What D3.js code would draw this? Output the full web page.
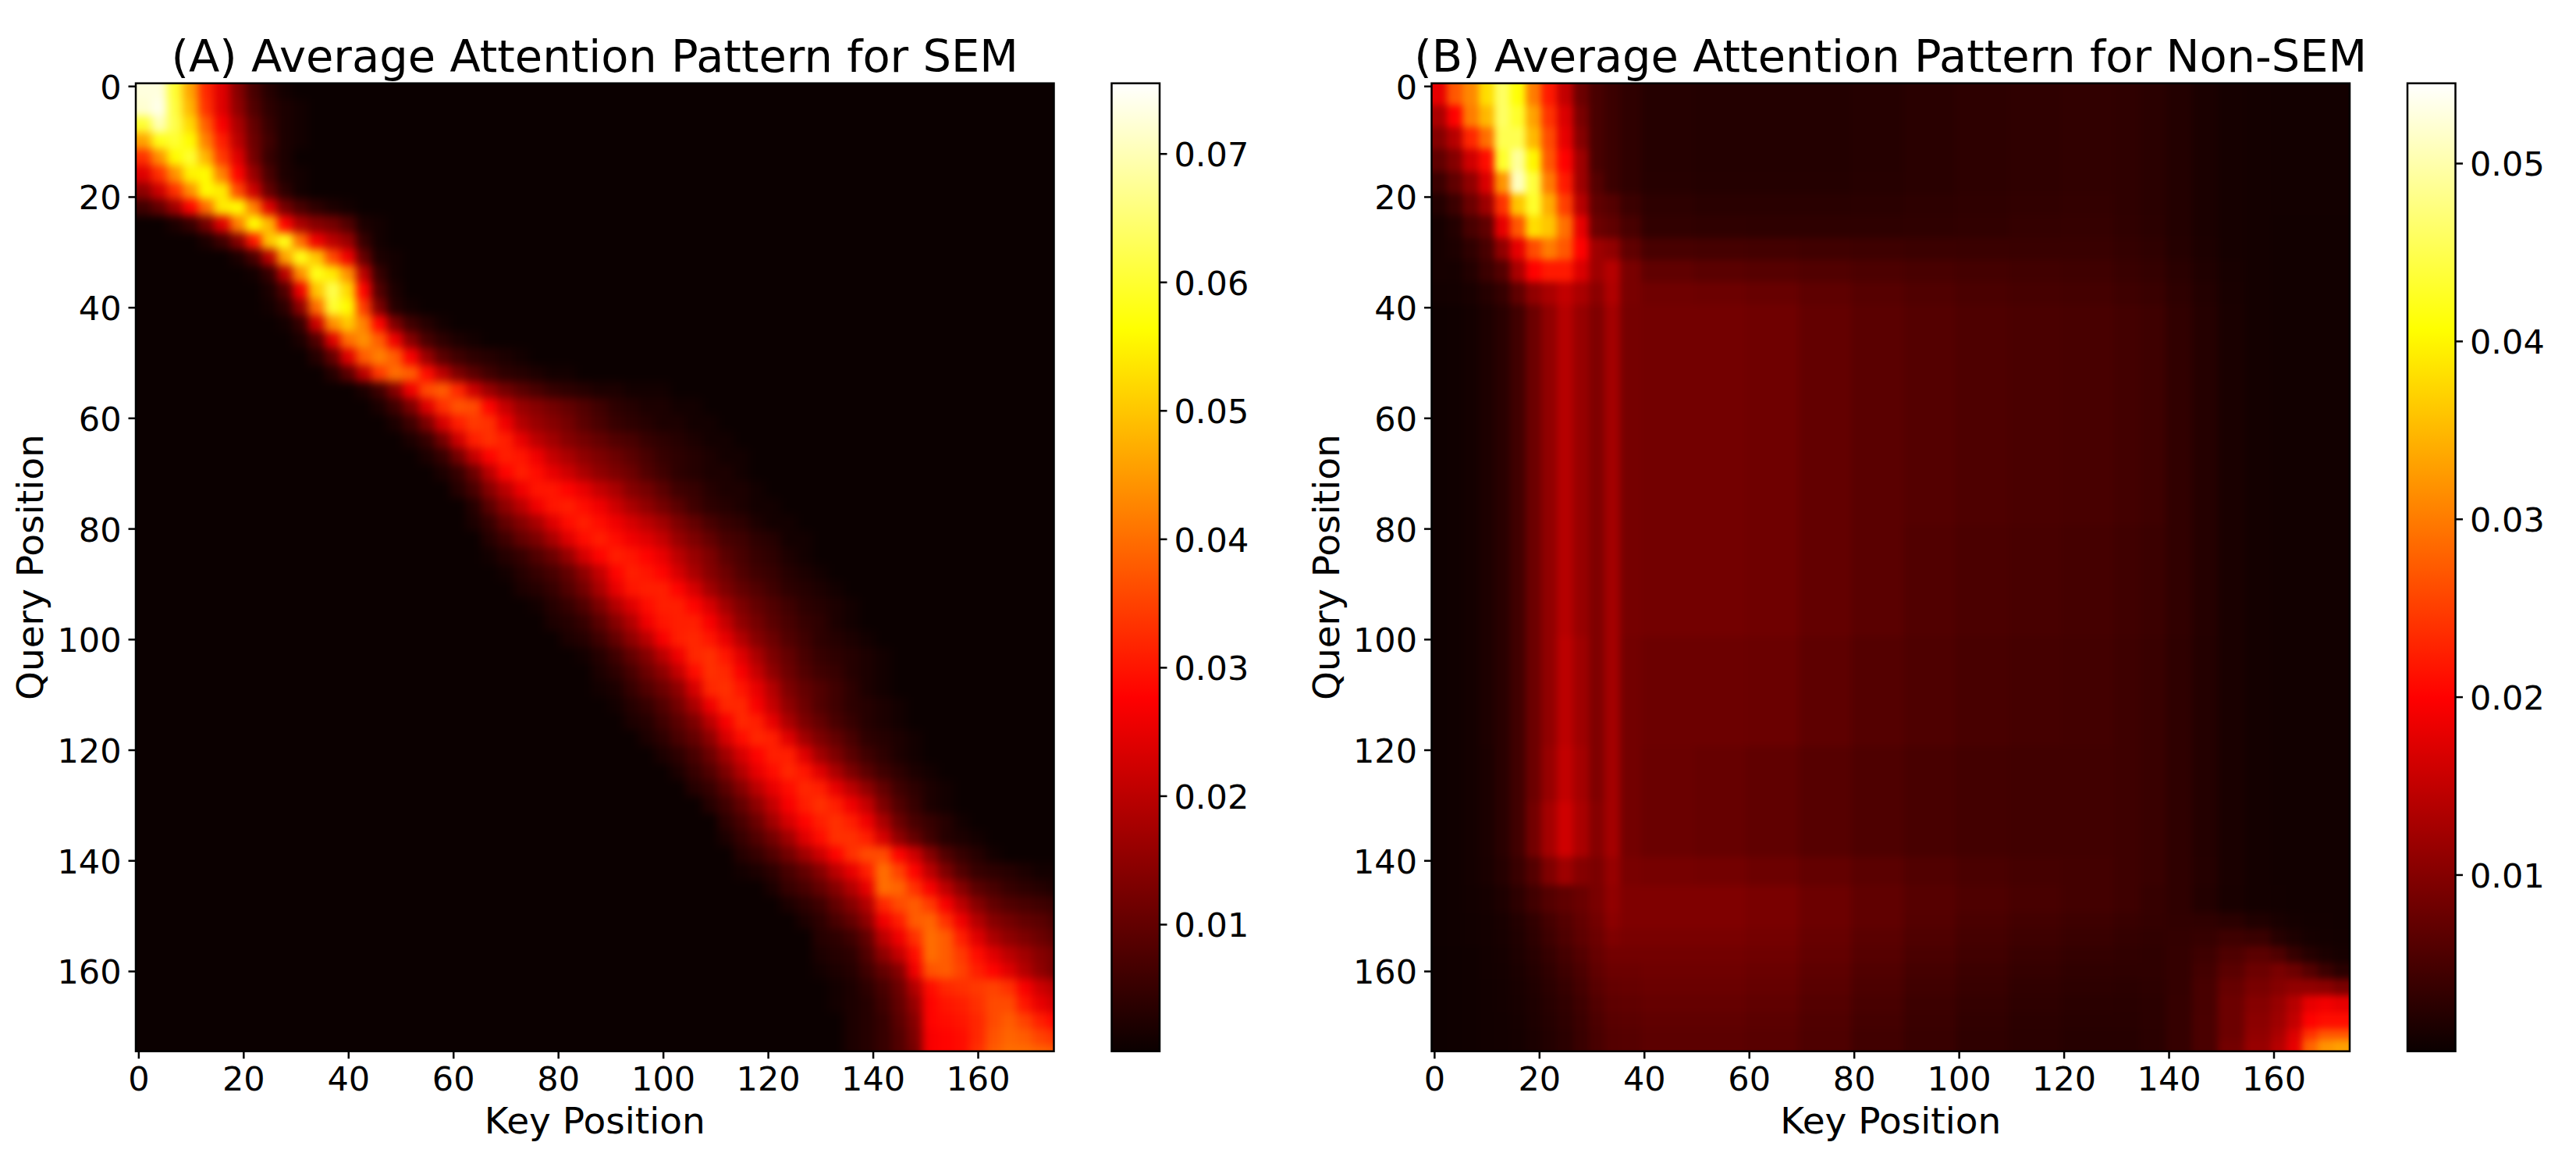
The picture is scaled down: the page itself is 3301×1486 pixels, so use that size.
<!DOCTYPE html>
<html><head><meta charset="utf-8">
<script src="https://cdnjs.cloudflare.com/ajax/libs/d3/7.8.5/d3.min.js"></script>
<style>html,body{margin:0;background:#fff}svg{display:block}text{font-family:"DejaVu Sans";fill:#000}</style>
</head><body><div id="c"></div>
<script>
// Values, in units of 0.001. Cells span from one bin edge to the next.
const keyBinsA = [0,3,6,9,12,15,18,21,24,27,30,33,36,39,42,45,48,51,54,57,60,63,66,69,72,75,78,81,84,87,90,93,96,99,102,105,108,111,114,117,120,123,126,129,132,135,138,141,144,147,150,153,156,159,162,165,168,171,174];
const queryBinsA = [0,3,6,9,12,15,18,21,24,27,30,33,36,39,42,45,48,51,54,57,60,63,66,69,72,75,78,81,84,87,90,93,96,99,102,105,108,111,114,117,120,123,126,129,132,135,138,141,144,147,150,153,156,159,162,165,168,171,174];
// Panel A rows: [first key bin index, values...]; all other cells are zero.
const rowsA = [
[0,73,73,60,46,32,24,14,7,3,1],
[0,72,74,61,48,33,24,15,8,4,2,1],
[0,60,70,62,52,38,27,18,10,5,2,1],
[0,46,58,60,56,42,31,20,11,6,2,1],
[0,33,44,56,60,48,34,24,12,5,2],
[0,24,33,44,55,56,42,28,16,7,2,1],
[0,15,22,33,44,56,54,36,22,10,4,1],
[0,6,10,17,28,40,54,56,42,24,12,7,4,2,1],
[2,2,5,12,24,42,56,48,28,18,14,12,8,2,1],
[4,2,6,14,30,50,58,40,26,20,16,5,1],
[6,2,7,20,46,58,50,36,26,10,2,1],
[7,1,5,20,44,58,54,44,20,5,1],
[8,2,8,26,50,62,52,28,8,2],
[8,1,4,15,40,60,56,34,13,3,1],
[9,1,5,22,44,50,42,28,13,6,3,1],
[10,2,8,24,40,44,38,26,14,7,4,2,1],
[11,3,10,24,38,42,38,27,16,9,6,4,3,2,1],
[12,3,9,20,34,40,38,29,20,13,9,6,4,3,2,1,1],
[14,2,6,14,26,36,38,32,22,16,12,9,7,5,4,3,2,2,1,1,1],
[15,2,6,13,24,33,37,36,28,21,16,14,12,10,8,6,4,3,2,2,1,1],
[16,2,6,13,23,31,34,33,26,19,16,14,12,9,7,5,4,3,2,2,1,1],
[17,2,5,12,22,31,33,31,25,20,17,14,12,10,8,7,5,4,3,2,1,1],
[18,2,5,12,21,28,31,30,26,21,18,15,13,11,9,7,5,4,3,2,1,1],
[19,2,5,11,20,28,31,29,25,22,18,15,13,11,8,6,4,3,2,2,1],
[20,3,7,14,20,26,30,30,28,25,21,18,14,12,9,6,5,3,2,2,1],
[21,3,9,15,20,26,30,31,29,26,22,18,15,12,9,6,4,3,2,1,1],
[21,2,5,10,14,18,24,29,31,29,26,23,20,17,13,10,7,5,4,2,1,1],
[22,3,6,10,13,18,24,29,31,29,26,24,21,16,13,10,7,6,4,3,1,1],
[22,1,3,5,8,11,16,23,28,31,30,28,25,20,16,13,9,7,5,4,2,1],
[23,1,3,5,7,10,15,21,28,31,30,28,23,18,14,11,8,6,5,3,2,1],
[24,2,3,5,8,12,18,25,30,31,31,28,23,17,13,10,8,6,4,3,2,1],
[25,1,3,5,8,13,19,24,29,31,31,28,23,17,13,10,8,6,4,3,2,1],
[26,2,3,5,9,14,19,26,30,31,31,27,21,15,12,9,7,5,4,2,1],
[27,2,3,6,10,15,20,27,31,32,30,25,19,14,11,8,6,4,3,2,1],
[28,1,3,6,10,14,20,26,32,33,30,24,18,13,10,7,5,4,3,2,1],
[29,2,4,7,11,15,21,29,33,32,27,21,15,11,8,6,5,3,2,1],
[29,1,2,5,8,11,15,23,32,33,30,25,19,13,10,8,6,4,2,1],
[30,1,3,5,8,12,18,26,32,32,27,21,15,11,8,6,4,3,2,1],
[31,2,3,6,9,13,20,27,32,31,25,18,13,10,7,5,3,2,1],
[32,2,4,7,10,15,23,29,32,31,24,17,13,10,7,4,3,2,1],
[33,2,4,7,11,17,23,28,31,31,24,17,13,9,6,4,2,1],
[34,2,5,8,13,19,25,29,32,30,24,18,13,9,6,4,2,1],
[35,3,5,9,14,20,25,29,32,31,25,20,15,10,6,4,2,1],
[36,3,6,10,15,21,27,31,33,31,26,21,13,8,5,2,1],
[37,4,7,11,17,23,28,31,33,31,26,18,11,7,5,3,1],
[37,2,5,8,12,17,24,29,33,33,31,23,15,10,6,3,2,1],
[38,3,5,8,12,17,22,28,33,36,36,28,22,14,8,5,3,1],
[38,1,2,4,7,10,14,20,25,31,40,35,28,20,13,8,5,4,3,2,1,1],
[40,2,5,7,10,14,19,25,40,39,33,27,20,14,9,7,5,4,3,2],
[41,2,4,6,10,14,19,32,36,38,34,27,20,14,10,8,7,6,5],
[42,2,4,7,10,15,26,31,38,39,33,26,19,14,12,10,9,7],
[43,3,4,6,10,20,26,33,40,38,31,24,18,15,13,11,9],
[43,2,3,4,8,15,21,29,40,38,34,29,24,20,17,14,12],
[43,1,2,3,6,10,14,26,37,38,35,31,28,24,19,15,12],
[44,1,2,4,7,11,19,29,32,33,34,35,33,27,22,19],
[44,1,2,3,6,10,16,28,30,31,33,36,36,30,25,22],
[45,2,3,5,9,14,28,29,30,32,36,38,35,31,28],
[45,2,3,5,8,13,27,28,29,32,37,39,38,35,33],
[45,2,3,5,8,12,27,28,29,33,38,40,40,39,38]
];
const keyBinsB = [0,3,6,9,12,15,18,21,24,27,30,33,36,40,50,60,70,80,90,100,110,120,130,135,140,145,150,155,160,163,166,169,172];
const queryBinsB = [0,4,8,12,16,20,24,28,32,36,40,60,80,100,120,130,140,145,150,153,156,159,162,165,168,171,173];
const rowsB = [
[18,27,31,38,46,41,30,22,15,8,5,4,3,2.2,2,2,2,2.2,2.5,2.8,3,3.2,3,2.6,2,1.4,1,.8,.7,.7,.7,.7,.7],
[13,20,30,35,46,43,33,24,17,9,5,4,3,2.2,2,2,2,2.2,2.5,2.8,3,3.2,3,2.6,2,1.4,1,.8,.7,.7,.7,.7,.7],
[10,14,23,29,45,45,35,26,18,10,5,4,3,2.2,2,2,2,2.2,2.5,2.8,3,3.2,3,2.6,2,1.4,1,.8,.7,.7,.7,.7,.7],
[7,10,16,21,43,49,40,27,20,12,5,4,3,2.2,2,2,2,2.2,2.5,2.8,3,3.2,3,2.6,2,1.4,1,.8,.7,.7,.7,.7,.7],
[4,7,11,17,32,51,44,30,22,12,6,4,3,2.3,2.1,2.1,2.1,2.3,2.5,2.8,3,3.2,3,2.6,2,1.4,1,.8,.7,.7,.7,.7,.7],
[2,4,8,12,24,36,43,34,25,14,7,6,4,2.8,2.5,2.5,2.5,2.6,2.8,3,3.2,3.3,3,2.6,2,1.4,1,.8,.7,.7,.7,.7,.7],
[1,2,5,7,18,27,38,36,29,18,8,7,5,3.2,3,2.9,2.9,2.9,3,3.2,3.4,3.5,3.1,2.7,2,1.4,1,.8,.6,.6,.6,.6,.6],
[1,1.5,3,5,11,18,26,30,27,20,12,11,7,5,4.8,4.6,4.4,4.2,4,3.9,3.8,3.8,3.4,3,2.2,1.5,1,.8,.6,.6,.6,.6,.6],
[1,1,2,4,6,13,20,22,22,17,12,14,9,7,6.5,6.2,5.8,5.4,5,4.7,4.5,4.3,3.8,3.4,2.6,1.8,1.1,.8,.6,.6,.6,.6,.6],
[.7,.8,1.2,2.2,3.5,7,11,13,15,13,10.5,13.5,9,8.2,8,7.6,6.8,6.2,5.7,5.2,4.9,4.7,4.2,3.8,2.9,2,1.2,.8,.6,.6,.6,.6,.6],
[.4,.5,.8,1.5,2.5,4.5,8,11,14,11.5,9.5,12.5,8.8,8.5,8.5,8.2,7.2,6.5,6,5.5,5.2,5,4.6,4.2,3.2,2.2,1.3,.8,.6,.6,.6,.6,.6],
[.4,.5,.8,1.5,2.5,4.5,8,11,14,11.5,9.5,12.5,8.8,8.5,8.5,8.2,7.2,6.5,6,5.5,5.2,5,4.6,4.2,3.2,2.2,1.3,.8,.6,.6,.6,.6,.6],
[.4,.5,.8,1.5,2.5,4.5,8,11,14,11.5,9.5,12.5,8.8,8.5,8.5,8.2,7.2,6.5,5.8,5.3,5,4.8,4.4,4,3.2,2.2,1.3,.8,.6,.6,.6,.6,.6],
[.4,.5,.8,1.5,2.5,4.5,8,11,14.5,12,9.5,12.5,8.5,8,8,7.8,6.8,6,5.5,5,4.8,4.6,4.2,3.8,3,2.1,1.3,.8,.6,.6,.6,.6,.6],
[.4,.5,.8,1.4,2.5,4.5,8,11.5,15,12.5,9.5,12.5,8.5,7.8,7.5,7,6.2,5.5,5,4.6,4.5,4.5,4.2,3.8,3,2.1,1.3,.8,.6,.6,.6,.6,.6],
[.4,.5,.8,1.4,2.5,4.5,8.5,12.5,16,13,10,12.5,8.5,7.8,7.5,7,6.2,5.5,5,4.6,4.5,4.5,4.2,3.8,3,2.1,1.3,.8,.6,.6,.6,.6,.6],
[.4,.5,.8,1.3,2.2,3.8,6,9.5,12,10,9.2,11.5,9,8.8,8.5,8,7.2,6.5,5.8,5.2,4.8,4.6,4.2,3.8,3,2.2,1.3,.8,.6,.6,.6,.6,.6],
[.4,.5,.7,1,1.6,2.8,4.5,6,7,7.8,9,11,9.5,9.5,9.5,9,8,7,6.2,5.5,5,4.6,4.2,3.6,3,2,1.2,.8,.7,.6,.6,.6,.6],
[.4,.5,.6,.8,1.2,2,3.2,4.8,6,7.2,8.5,10.5,9.5,9.5,9.5,9,8,7,6,5.2,4.6,4.2,3.8,3.4,3.2,3,2.6,1.8,1.2,.9,.7,.7,.6],
[.4,.5,.6,.8,1.1,1.8,2.8,4.2,5.5,6.8,8,9.5,9,9,9,8.6,7.6,6.5,5.6,4.8,4.2,3.8,3.4,3.2,3.3,3.6,4.2,3.8,2.3,1.5,1,.8,.7],
[.3,.4,.5,.7,1,1.6,2.4,3.6,4.8,6,7.5,8.5,8.5,8.5,8.5,8.2,7.2,6.2,5.2,4.5,3.8,3.4,3.2,3,3.4,4.2,5.5,6.5,5.5,3.5,2.2,1.4,1],
[.3,.4,.5,.7,.9,1.4,2.1,3.1,4.2,5.4,7,8,8,8.2,8.2,7.8,6.8,5.8,4.8,4.1,3.5,3.1,3,3,3.4,4.6,6.5,8,9,8,6,4,2.5],
[.3,.4,.5,.6,.8,1.2,1.8,2.7,3.6,4.8,6.3,7.3,7.5,7.8,7.8,7.4,6.4,5.4,4.4,3.7,3.1,2.8,2.7,2.8,3.4,5,7.5,9,10,11,11,10.5,9],
[.3,.4,.5,.6,.8,1.1,1.6,2.4,3.2,4.3,5.8,6.8,7,7.4,7.4,7,6,5,4.1,3.4,2.9,2.6,2.5,2.7,3.5,5,8,10,11.5,14,18,19,18],
[.3,.4,.5,.6,.7,1,1.5,2.2,2.9,4,5.4,6.4,6.6,7,7,6.6,5.7,4.7,3.9,3.2,2.7,2.4,2.4,2.7,3.5,5.2,8,10.5,12,15,20,21,21],
[.3,.4,.5,.6,.7,.9,1.4,2,2.7,3.8,5,6,6.2,6.7,6.7,6.3,5.5,4.5,3.7,3,2.6,2.3,2.3,2.6,3.5,5.2,8,11,13,17,24,27,27],
[.3,.4,.5,.6,.7,.9,1.4,2,2.7,3.8,5,6,6.2,6.7,6.7,6.3,5.5,4.5,3.7,3,2.6,2.3,2.3,2.6,3.5,5.2,8.5,11.5,14,18,28,32,33]
];
const keyTicks = [0,20,40,60,80,100,120,140,160];
const queryTicks = [0,20,40,60,80,100,120,140,160];
const cbarTicksA = [.01,.02,.03,.04,.05,.06,.07];
const cbarTicksB = [.01,.02,.03,.04,.05];
const domainA = [.00011,.07547];
const domainB = [.00007,.05449];
const hotStops = [0,.365079,.746032,1];
const hotColors = ["#0b0000","#ff0000","#ffff00","#ffffff"];

const W=3301,H=1486, N=175;
const svg=d3.select("#c").append("svg").attr("width",W).attr("height",H).attr("viewBox",[0,0,W,H]);
svg.append("rect").attr("width",W).attr("height",H).attr("fill","#fff");
const defs=svg.append("defs");
const hot=d3.scaleLinear().domain(hotStops).range(hotColors).clamp(true).interpolate(d3.interpolateRgb);
const FS_TICK=43, FS_LABEL=47, FS_TITLE=57.5, TOP=106.7, BOT=1346.7, LW=2.5;

function expand(rows,n){return rows.map(r=>{const out=new Array(n).fill(0);r.slice(1).forEach((v,i)=>out[r[0]+i]=v);return out;});}

function panel(o){
  const x=d3.scaleLinear().domain([-.5,N-.5]).range([o.left,o.left+1176.5]);
  const y=d3.scaleLinear().domain([-.5,N-.5]).range([TOP,BOT]);
  const t=d3.scaleLinear().domain(o.domain).range([0,1]);
  const col=v=>hot(t(v/1000));
  const g=svg.append("g");
  defs.append("clipPath").attr("id","clip"+o.id).append("rect").attr("x",x.range()[0]).attr("y",TOP).attr("width",1176.5).attr("height",BOT-TOP);
  const f=defs.append("filter").attr("id","blur"+o.id).attr("filterUnits","userSpaceOnUse")
    .attr("x",x.range()[0]-200).attr("y",TOP-200).attr("width",1576).attr("height",BOT-TOP+400)
    .attr("color-interpolation-filters","sRGB");
  f.append("feGaussianBlur").attr("stdDeviation",o.blur);
  const cells=[];
  o.rows.forEach((row,r)=>row.forEach((v,c)=>cells.push({r,c,v})));
  const P=150, edge=(bins,i)=>i<bins.length-1?bins[i+1]:N;
  g.append("g").attr("clip-path",`url(#clip${o.id})`).append("g").attr("filter",`url(#blur${o.id})`)
    .attr("shape-rendering","crispEdges")
    .selectAll("rect").data(cells).join("rect")
    .attr("x",d=>Math.floor(x(o.keys[d.c]-.5))-(d.c===0?P:0))
    .attr("y",d=>Math.floor(y(o.queries[d.r]-.5))-(d.r===0?P:0))
    .attr("width",d=>Math.ceil(x(edge(o.keys,d.c)-.5))-Math.floor(x(o.keys[d.c]-.5))+(d.c===0?P:0)+(d.c===o.keys.length-1?P:0))
    .attr("height",d=>Math.ceil(y(edge(o.queries,d.r)-.5))-Math.floor(y(o.queries[d.r]-.5))+(d.r===0?P:0)+(d.r===o.queries.length-1?P:0))
    .attr("fill",d=>col(d.v));
  g.append("rect").attr("x",x.range()[0]).attr("y",TOP).attr("width",1176.5).attr("height",BOT-TOP).attr("fill","none").attr("stroke","#000").attr("stroke-width",LW);
  const ax=g.append("g").attr("transform",`translate(0,${BOT})`).call(d3.axisBottom(x).tickValues(keyTicks).tickSize(9.5).tickPadding(10).tickFormat(d3.format("d")));
  const ay=g.append("g").attr("transform",`translate(${x.range()[0]},0)`).call(d3.axisLeft(y).tickValues(queryTicks).tickSize(9.5).tickPadding(9).tickFormat(d3.format("d")));
  [ax,ay].forEach(a=>{a.select(".domain").remove();a.selectAll("line").attr("stroke","#000").attr("stroke-width",LW);a.selectAll("text").attr("font-size",FS_TICK).attr("font-family","DejaVu Sans");});
  ay.selectAll("text").attr("dy",".37em");
  const cx=o.left+1176.5/2;
  g.append("text").attr("x",cx).attr("y",91.7).attr("text-anchor","middle").attr("font-size",FS_TITLE).text(o.title);
  g.append("text").attr("x",cx).attr("y",1452).attr("text-anchor","middle").attr("font-size",FS_LABEL).text("Key Position");
  g.append("text").attr("transform",`translate(${o.left-119},${(TOP+BOT)/2}) rotate(-90)`).attr("text-anchor","middle").attr("font-size",FS_LABEL).text("Query Position");
  // colour bar
  const cw=61.5, cx0=o.left+1250.5;
  const yc=d3.scaleLinear().domain(o.domain).range([BOT,TOP]);
  const grad=defs.append("linearGradient").attr("id","grad"+o.id).attr("x1",0).attr("x2",0).attr("y1",1).attr("y2",0);
  hotStops.forEach((s,i)=>grad.append("stop").attr("offset",s).attr("stop-color",hotColors[i]));
  g.append("rect").attr("x",cx0).attr("y",TOP).attr("width",cw).attr("height",BOT-TOP).attr("fill",`url(#grad${o.id})`).attr("stroke","#000").attr("stroke-width",LW);
  const ac=g.append("g").attr("transform",`translate(${cx0+cw},0)`).call(d3.axisRight(yc).tickValues(o.cbarTicks).tickSize(9.5).tickPadding(9).tickFormat(d3.format(".2f")));
  ac.select(".domain").remove();ac.selectAll("line").attr("stroke","#000").attr("stroke-width",LW);
  ac.selectAll("text").attr("font-size",FS_TICK).attr("font-family","DejaVu Sans").attr("dy",".37em");
}
panel({id:"A",left:174,keys:keyBinsA,queries:queryBinsA,rows:expand(rowsA,keyBinsA.length),domain:domainA,cbarTicks:cbarTicksA,blur:6,title:"(A) Average Attention Pattern for SEM"});
panel({id:"B",left:1834.5,keys:keyBinsB,queries:queryBinsB,rows:rowsB,domain:domainB,cbarTicks:cbarTicksB,blur:5,title:"(B) Average Attention Pattern for Non-SEM"});
</script></body></html>
